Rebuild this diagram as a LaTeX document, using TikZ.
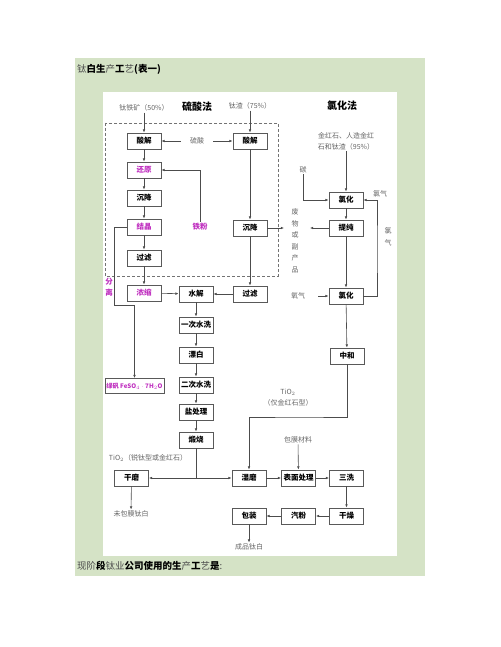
\documentclass[tikz,border=0pt]{standalone}
\usepackage{fontspec}
\setmainfont{Noto Sans CJK SC}
\usetikzlibrary{arrows.meta}
\definecolor{panel}{RGB}{213,227,198}
\definecolor{mag}{RGB}{192,48,192}
\begin{document}
\begin{tikzpicture}[x=1pt,y=-1pt,
    box/.style={draw=black!65,line width=0.8pt,fill=white,minimum width=34pt,minimum height=16pt,inner sep=0pt,font=\fontsize{7.5}{9}\selectfont\bfseries},
    lbl/.style={text=black!60,inner sep=1pt,font=\fontsize{7}{8.5}\selectfont},
    vlbl/.style={lbl,align=center,font=\fontsize{7}{11.5}\selectfont},
    ttl/.style={inner sep=0pt,font=\fontsize{10}{12}\selectfont\bfseries},
    mg/.style={text=mag},
    ln/.style={draw=black!70,line width=0.6pt},
    arr/.style={ln,-{Latex[length=3.2pt,width=2.6pt]}}]
  \useasboundingbox (0,0) rectangle (500,647);
  \fill[panel] (75,58) rectangle (425,576);
  \fill[white] (103,92) rectangle (397,556);
  \node[anchor=west,inner sep=0pt,font=\fontsize{9.5}{11}\selectfont] (head) at (77,69) {\textcolor{black!70}{钛}\textbf{白生}\textcolor{black!70}{产}\textbf{工}\textcolor{black!70}{艺}\textbf{(表一)}};
  \node[anchor=west,inner sep=0pt,font=\fontsize{9.5}{11}\selectfont] (foot) at (77,566) {\textcolor{black!70}{现阶}\textbf{段}\textcolor{black!70}{钛业}\textbf{公司使用的生}\textcolor{black!70}{产}\textbf{工}\textcolor{black!70}{艺}\textbf{是}\textcolor{black!70}{:}};
  \draw[black!55,line width=0.7pt,dash pattern=on 3pt off 2pt] (105,123) rectangle (278,276);
  \node[lbl] (t1) at (144,108) {钛铁矿（50\%）}; \node[ttl] (h1) at (197,107) {硫酸法};
  \node[lbl] (t2) at (250,106) {钛渣（75\%）};
  \node[box] (sj1) at (144,141) {酸解}; \node[lbl] (ls) at (197,141) {硫酸};
  \node[box] (sj2) at (250,141) {酸解};
  \node[box,mg] (hy) at (144,170) {还原}; \node[box] (cj1) at (144,198) {沉降};
  \node[box,mg] (jj) at (144,227) {结晶}; \node[lbl,mg,font=\fontsize{7.5}{9}\selectfont\bfseries] (tf) at (200,227) {铁粉};
  \node[box] (cj2) at (250,228) {沉降}; \node[box] (gl1) at (144,258) {过滤};
  \node[vlbl,mg,font=\fontsize{7.5}{11}\selectfont\bfseries] (fl) at (109,287) {分\\离};
  \node[box,mg] (ns) at (144,293) {浓缩}; \node[box] (sj) at (196,294) {水解};
  \node[box] (gl2) at (250,294) {过滤};
  \node[box] (sx1) at (196,325) {一次水洗}; \node[box] (pb) at (196,355) {漂白};
  \node[box,mg,minimum width=59pt,minimum height=15pt,font=\fontsize{6.2}{8}\selectfont\bfseries] (lf) at (134.5,386) {绿矾 FeSO$_4$ $\cdot$ 7H$_2$O};
  \node[box] (sx2) at (196,385) {二次水洗}; \node[box] (yc) at (196,412) {盐处理};
  \node[box] (ds) at (196,440) {煅烧};
  \node[lbl] (ti1) at (148,458) {TiO$_2$（锐钛型或金红石）};
  \node[box] (gm) at (131.5,478) {干磨}; \node[lbl] (wb) at (131,514) {未包膜钛白};
  \node[box] (sm) at (249,478) {湿磨}; \node[lbl] (bm) at (298,440) {包膜材料};
  \node[box] (bc) at (298.5,478) {表面处理}; \node[box] (sx3) at (346.5,478) {三洗};
  \node[box] (gz) at (346.5,516) {干燥}; \node[box] (qf) at (298.5,516) {汽粉};
  \node[box] (bz) at (249,516) {包装}; \node[lbl] (cp) at (249,547) {成品钛白};
  \node[ttl] (h2) at (342,106) {氯化法};
  \node[lbl,align=center,font=\fontsize{7}{11}\selectfont] (src) at (346,141) {金红石、人造金红\\石和钛渣（95\%）};
  \node[lbl] (ta) at (303,170) {碳}; \node[box] (lh1) at (346,200) {氯化};
  \node[lbl] (lq1) at (380,194) {氯气}; \node[box] (tc) at (346,228) {提纯};
  \node[vlbl] (fw) at (295,241) {废\\物\\或\\副\\产\\品};
  \node[vlbl] (lq2) at (388,237) {氯\\气};
  \node[lbl] (yq) at (298,296) {氧气}; \node[box] (lh2) at (346,296) {氯化};
  \node[box] (zh) at (347,356) {中和};
  \node[lbl,align=center,font=\fontsize{7}{11}\selectfont] (ti2) at (288,398) {TiO$_2$\\（仅金红石型）};
  \coordinate (w1) at (284,228); \coordinate (w2) at (310,228);
  \coordinate (s1) at (114,305); \coordinate (c1) at (196,478);
  \coordinate (r1) at (377,250); \coordinate (r2) at (300,417);
  \draw[arr] (t1) -- (sj1); \draw[arr] (t2) -- (sj2);
  \draw[arr] ([xshift=-8pt]ls.west) -- (sj1); \draw[arr] ([xshift=8pt]ls.east) -- (sj2);
  \draw[arr] (sj1) -- (hy); \draw[arr] (hy) -- (cj1); \draw[arr] (cj1) -- (jj);
  \draw[arr] (jj) -- (gl1); \draw[arr] (gl1) -- (ns);
  \draw[arr] (tf.north) |- (hy.east);
  \draw[arr] (sj2) -- (cj2); \draw[arr] (cj2) -- (gl2); \draw[arr] (gl2) -- (sj);
  \draw[arr] (cj2.east) -- (w1); \draw[arr] (ns) -- (sj);
  \draw[arr] (jj.west) -| (s1) -| (lf.north);
  \draw[arr] (sj) -- (sx1); \draw[arr] (sx1) -- (pb); \draw[arr] (pb) -- (sx2);
  \draw[arr] (sx2) -- (yc); \draw[arr] (yc) -- (ds);
  \draw[ln] (ds.south) -- (c1); \draw[arr] (c1) -- (gm.east); \draw[arr] (c1) -- (sm.west);
  \draw[arr] (gm) -- (wb); \draw[arr] (sm) -- (bc); \draw[arr] (bm) -- (bc);
  \draw[arr] (bc) -- (sx3); \draw[arr] (sx3) -- (gz); \draw[arr] (gz) -- (qf);
  \draw[arr] (qf) -- (bz); \draw[arr] (bz) -- (cp);
  \draw[arr] (src) -- (lh1); \draw[arr] (ta.south) |- (lh1.west);
  \draw[arr] (lh1) -- (tc); \draw[arr] (tc.west) -- (w2); \draw[arr] (tc) -- (lh2);
  \draw[arr] ([xshift=12pt]yq.east) -- (lh2.west);
  \draw[arr] (lh2.east) -| (r1) |- (lh1.east);
  \draw[arr] (lh2) -- (zh); \draw[arr] (zh.south) |- (r2) -| (sm.north);
\end{tikzpicture}
\end{document}
